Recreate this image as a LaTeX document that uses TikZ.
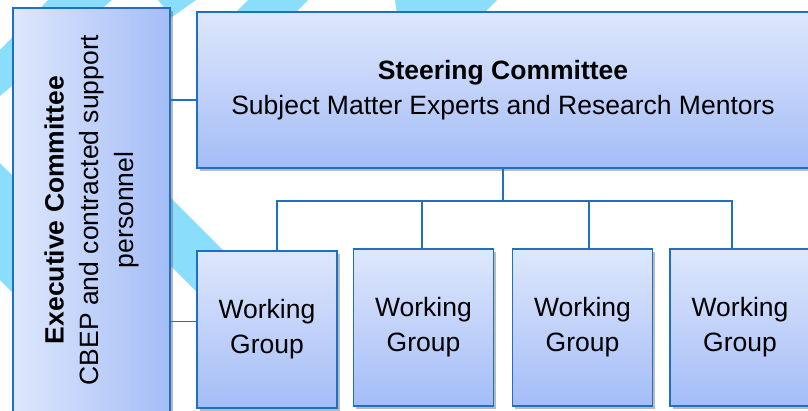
\documentclass[tikz,border=0pt]{standalone}
\usepackage{fontspec}
\setmainfont{Liberation Sans}
\usepackage{graphicx}
\usetikzlibrary{calc,shadows}
\definecolor{boxtop}{RGB}{222,231,251}
\definecolor{boxbot}{RGB}{164,189,248}
\definecolor{boxline}{RGB}{30,112,196}
\definecolor{stripe}{RGB}{138,221,251}
\newcommand{\orgfont}{\fontsize{26.5}{35}\selectfont}
\tikzset{
		orgbox/.style={draw=boxline, line width=1.6pt, top color=boxtop, bottom color=boxbot,
			drop shadow={shadow xshift=2.5pt, shadow yshift=-2.5pt, opacity=.45, fill=black!60},
			inner sep=0pt, align=center, font=\orgfont},
		exebox/.style={orgbox, left color=boxtop, right color=boxbot},
		link/.style={draw=boxline, line width=1.6pt},
		}

\begin{document}
\begin{tikzpicture}[x=1pt,y=-1pt]
					\useasboundingbox (0,0) rectangle (808,410);
					\clip (0,0) rectangle (808,410);
					%STRIPES in the background
					\fill[stripe] (48,0) -- (112,0) -- (0,96) -- (0,50) -- cycle;
					\fill[stripe] (158,0) -- (196,0) -- (172,17) -- cycle;
					\fill[stripe] (248,0) -- (308,0) -- (294,14) -- (234,14) -- cycle;
					\fill[stripe] (395,0) -- (497,0) -- (483,14) -- (397,14) -- cycle;
					\fill[stripe] (0,163) -- (20,183) -- (20,300) -- (0,280) -- cycle;
					\fill[stripe] (165,192) -- (232,259) -- (232,327) -- (165,260) -- cycle;
					%NODES for the committees
					\node[exebox, minimum width=157pt, minimum height=404pt](exec) at (91.5,210)
						{\rotatebox{90}{\begin{tabular}{c}\textbf{Executive Committee}\\CBEP and contracted support\\personnel\end{tabular}}};
					\node[orgbox, minimum width=612pt, minimum height=156pt](steer) at (503,90)
						{\textbf{Steering Committee}\\Subject Matter Experts and Research Mentors};
					%NODES for the working groups
					\node[orgbox, minimum width=140pt, minimum height=157pt](wg1) at (267,329.5) {Working\\Group};
					\node[orgbox, minimum width=140pt, minimum height=157pt](wg2) at (423.5,327.5) {Working\\Group};
					\node[orgbox, minimum width=140pt, minimum height=157pt](wg3) at (582.5,327.5) {Working\\Group};
					\node[orgbox, minimum width=140pt, minimum height=157pt](wg4) at (740,327.5) {Working\\Group};
					%PATHS
					\coordinate (bus) at ($(steer.south)+(0,32)$);
					\draw[link] ([yshift=-10pt]steer.west) -- ([yshift=-10pt]steer.west -| exec.east);
					\draw[link] ([yshift=8pt]wg1.west) -- ([yshift=8pt]wg1.west -| exec.east);
					\draw[link] (steer.south) -- (bus);
					\draw[link] ([xshift=10pt]wg1.north) |- ([xshift=-8pt]wg4.north |- bus) -- ([xshift=-8pt]wg4.north);
					\draw[link] ([xshift=-1.5pt]wg2.north) -- ([xshift=-1.5pt]wg2.north |- bus);
					\draw[link] ([xshift=6.5pt]wg3.north) -- ([xshift=6.5pt]wg3.north |- bus);
				\end{tikzpicture}
\end{document}
